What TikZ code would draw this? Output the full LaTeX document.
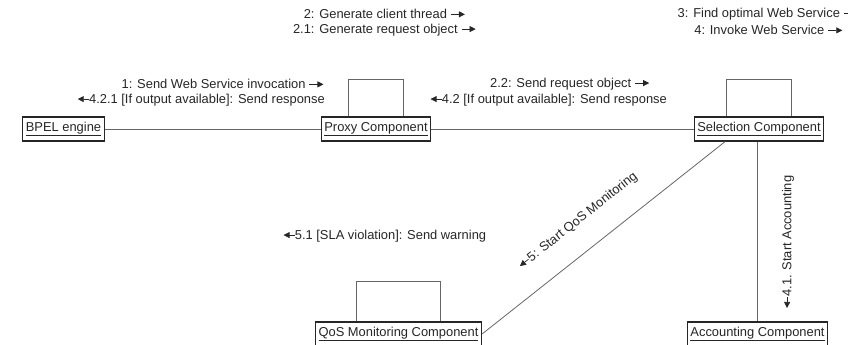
\documentclass[tikz,border=0pt]{standalone}
\usepackage{fontspec}
\setmainfont{Liberation Sans}
\usetikzlibrary{arrows.meta,calc}

% small message arrows placed inline with the message texts
\newcommand\msgright{\tikz[baseline=-0.33em]\draw[line width=0.7pt,draw=black!85,-{Triangle[length=6pt,width=6pt]}] (0,0)--(14pt,0);}
\newcommand\msgleft{\tikz[baseline=-0.33em]\draw[line width=0.7pt,draw=black!85,-{Triangle[length=6pt,width=6pt]}] (11pt,0)--(0,0);}

\begin{document}
\begin{tikzpicture}[x=1pt,y=-1pt,
  every node/.style={font=\fontsize{12.9}{15}\selectfont, text=black!85},
  object/.style={draw=black!85, line width=1.3pt, fill=white, minimum height=24pt,
                 inner xsep=3pt, inner ysep=0pt},
  link/.style={draw=black!60, line width=0.8pt},
  msg/.style={inner sep=0pt}]

\useasboundingbox (0,0) rectangle (848,345);

% objects
\node[object] (bpel) at (63.5,129) {\underline{BPEL engine}};
\node[object] (prx)  at (376,129)  {\underline{Proxy Component}};
\node[object] (sel)  at (759,129)  {\underline{Selection Component}};
\node[object] (qos)  at (398.5,334) {\underline{QoS Monitoring Component}};
\node[object] (acc)  at (757.5,334) {\underline{Accounting Component}};

% links between objects
\draw[link] (bpel) -- (prx);
\draw[link] (prx) -- (sel);
\draw[link] (sel.south -| acc.north) -- (acc.north);
\coordinate (selq) at ($(sel.south west)!0.24!(sel.south east)$);
\draw[link] (selq) -- (qos.east);

% self links
\foreach \o/\h in {prx/37, sel/37, qos/40}{
  \draw[link] ($(\o.north west)!0.25!(\o.north east)$) -- ++(0,-\h)
      -| ($(\o.north west)!0.75!(\o.north east)$);
}

% messages
\node[msg, anchor=east] (m1)  at (324,84)  {1: Send Web Service invocation \msgright};
\node[msg, anchor=east] (m421) at (325,100) {\msgleft4.2.1 [If output available]: Send response};
\node[msg] (m2)  at (384.5,14) {2: Generate client thread \msgright};
\node[msg] (m21) at (384.5,30) {2.1: Generate request object \msgright};
\node[msg, anchor=west] (m22) at (490,84)  {2.2: Send request object \msgright};
\node[msg, anchor=west] (m42) at (430,100) {\msgleft4.2 [If output available]: Send response};
\node[msg] (m3) at (768,14)   {3: Find optimal Web Service \msgright};
\node[msg] (m4) at (768.5,30) {4: Invoke Web Service \msgright};
\node[msg, anchor=west] (m51) at (283,236) {\msgleft5.1 [SLA violation]: Send warning};
\node[msg, rotate=38.5] (m5) at (578,221) {\msgleft5: Start QoS Monitoring};
\node[msg, rotate=90] (m41) at (788,242) {\msgleft4.1. Start Accounting};

\end{tikzpicture}
\end{document}
